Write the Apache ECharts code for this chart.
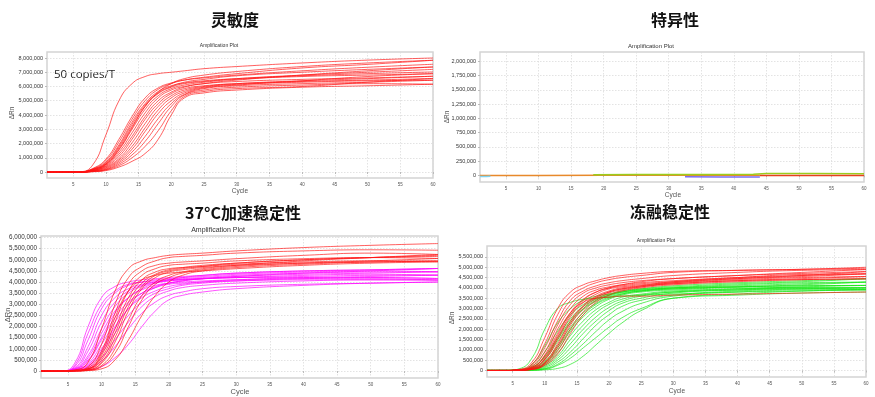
<!DOCTYPE html>
<html>
<head>
<meta charset="utf-8">
<script src="https://cdn.jsdelivr.net/npm/echarts@6/dist/echarts.min.js"></script>
<style>
  html, body { margin: 0; padding: 0; background: #fff; }
  #chart { width: 875px; height: 397px; }
</style>
</head>
<body>
<div id="chart"></div>
<script>
  const CYCLES = [1, 4, 6, 8, 10, 12, 14, 16, 18, 20, 22, 25, 30, 40, 50, 60];
  const CYCLE_TICKS = [5, 10, 15, 20, 25, 30, 35, 40, 45, 50, 55, 60];

  // 灵敏度
  const sensTicks = [0, 1, 2, 3, 4, 5, 6, 7, 8];
  const sensCurves = [
    [0, 0, 0.02, 0.5, 2.6, 5.0, 6.2, 6.7, 6.9, 7.0, 7.1, 7.25, 7.4, 7.65, 7.85, 8.0],
    [0, 0, 0.01, 0.25, 0.9, 2.3, 3.9, 5.2, 5.9, 6.25, 6.45, 6.6, 6.8, 7.1, 7.35, 7.56],
    [0, 0, 0.01, 0.22, 0.8, 2.1, 3.7, 5.0, 5.8, 6.2, 6.45, 6.65, 6.9, 7.3, 7.55, 7.84],
    [0, 0, 0.01, 0.2, 0.7, 1.9, 3.5, 4.8, 5.65, 6.05, 6.25, 6.4, 6.55, 6.75, 6.9, 7.02],
    [0, 0, 0.01, 0.18, 0.6, 1.7, 3.2, 4.6, 5.5, 5.95, 6.2, 6.35, 6.55, 6.8, 7.0, 7.2],
    [0, 0, 0.01, 0.15, 0.55, 1.55, 3.0, 4.4, 5.35, 5.85, 6.1, 6.3, 6.5, 6.7, 6.8, 6.9],
    [0, 0, 0.01, 0.12, 0.5, 1.4, 2.75, 4.15, 5.2, 5.75, 6.0, 6.2, 6.35, 6.5, 6.6, 6.72],
    [0, 0, 0, 0.1, 0.45, 1.25, 2.5, 3.9, 5.0, 5.6, 5.95, 6.2, 6.45, 6.8, 7.1, 7.37],
    [0, 0, 0, 0.1, 0.4, 1.1, 2.3, 3.7, 4.8, 5.5, 5.85, 6.05, 6.2, 6.35, 6.45, 6.56],
    [0, 0, 0, 0.08, 0.35, 0.95, 2.05, 3.4, 4.6, 5.35, 5.75, 6.0, 6.2, 6.4, 6.55, 6.72],
    [0, 0, 0, 0.07, 0.3, 0.85, 1.8, 3.1, 4.35, 5.2, 5.65, 5.95, 6.15, 6.3, 6.4, 6.44],
    [0, 0, 0, 0.06, 0.25, 0.75, 1.6, 2.85, 4.1, 5.0, 5.55, 5.9, 6.1, 6.4, 6.7, 6.9],
    [0, 0, 0, 0.05, 0.2, 0.65, 1.4, 2.5, 3.75, 4.8, 5.45, 5.85, 6.05, 6.2, 6.3, 6.44],
    [0, 0, 0, 0.04, 0.17, 0.55, 1.2, 2.15, 3.4, 4.6, 5.4, 5.75, 5.95, 6.1, 6.2, 6.16],
    [0, 0, 0, 0.03, 0.14, 0.45, 1.0, 1.8, 2.9, 4.3, 5.3, 5.65, 5.85, 6.0, 6.3, 6.56],
    [0, 0, 0, 0.02, 0.1, 0.35, 0.75, 1.3, 2.3, 4.0, 5.2, 5.55, 5.75, 5.95, 6.05, 6.16],
    [0, 0, 0.01, 0.15, 0.55, 1.6, 3.1, 4.6, 5.6, 6.2, 6.55, 6.8, 7.05, 7.4, 7.65, 7.84],
    [0, 0, 0.01, 0.18, 0.65, 1.8, 3.35, 4.7, 5.55, 6.0, 6.3, 6.5, 6.75, 7.0, 7.2, 7.37]
  ];

  // 特异性 (flat traces only)
  const specTicks = [0, 0.25, 0.5, 0.75, 1.0, 1.25, 1.5, 1.75, 2.0];
  const specCyanX = [1, 2, 2.6];
  const specCyanY = [-0.02, -0.02, -0.015];
  const specOrangeX = [1, 10, 20, 30, 44];
  const specOrangeY = [0, 0, 0.002, 0.002, 0.004];
  const specGreenX = [18.4, 25, 35, 43, 45, 52, 60];
  const specGreenY = [0.01, 0.015, 0.015, 0.02, 0.035, 0.035, 0.03];
  const specPurpleX = [32.5, 38, 44];
  const specPurpleY = [-0.025, -0.03, -0.03];
  const specRedX = [44, 50, 60];
  const specRedY = [0.0, 0.0, 0.0];

  // 37°C加速稳定性
  const heatTicks = [0, 0.5, 1, 1.5, 2, 2.5, 3, 3.5, 4, 4.5, 5, 5.5, 6];
  const heatRed = [
    [0, 0, 0.05, 0.4, 1.9, 3.6, 4.6, 4.95, 5.1, 5.2, 5.25, 5.3, 5.4, 5.55, 5.65, 5.73],
    [0, 0, 0.03, 0.2, 1.2, 3.0, 4.2, 4.7, 4.95, 5.1, 5.15, 5.2, 5.3, 5.4, 5.45, 5.43],
    [0, 0, 0.02, 0.15, 0.9, 2.6, 3.9, 4.5, 4.75, 4.85, 4.9, 4.95, 5.05, 5.2, 5.3, 5.24],
    [0, 0, 0.02, 0.1, 0.7, 2.2, 3.6, 4.3, 4.6, 4.75, 4.8, 4.85, 4.95, 5.05, 5.1, 5.06],
    [0, 0, 0.02, 0.1, 0.6, 1.9, 3.3, 4.1, 4.45, 4.6, 4.65, 4.7, 4.8, 4.9, 4.95, 4.94],
    [0, 0, 0.01, 0.08, 0.5, 1.7, 3.1, 3.95, 4.35, 4.55, 4.65, 4.75, 4.85, 5.0, 5.1, 5.15],
    [0, 0, 0.01, 0.06, 0.4, 1.5, 2.9, 3.8, 4.3, 4.5, 4.6, 4.7, 4.85, 5.0, 5.1, 5.2],
    [0, 0, 0.01, 0.05, 0.35, 1.3, 2.7, 3.7, 4.2, 4.45, 4.55, 4.65, 4.75, 4.85, 4.9, 4.94],
    [0, 0, 0.01, 0.04, 0.25, 1.0, 2.3, 3.4, 4.0, 4.3, 4.45, 4.6, 4.75, 4.95, 5.1, 5.24],
    [0, 0, 0, 0.03, 0.2, 0.8, 2.0, 3.2, 3.9, 4.2, 4.4, 4.55, 4.7, 4.85, 4.95, 5.06],
    [0, 0, 0, 0.02, 0.1, 0.5, 1.4, 2.5, 3.4, 4.0, 4.3, 4.5, 4.65, 4.8, 4.9, 4.94],
    [0, 0, 0.01, 0.1, 0.8, 2.4, 3.6, 4.1, 4.3, 4.4, 4.45, 4.5, 4.6, 4.75, 4.85, 4.9]
  ];
  const heatMagenta = [
    [0, 0, 0.35, 2.0, 3.3, 3.8, 4.0, 4.1, 4.15, 4.2, 4.25, 4.3, 4.4, 4.5, 4.55, 4.61],
    [0, 0, 0.25, 1.7, 3.0, 3.6, 3.9, 4.0, 4.05, 4.1, 4.12, 4.15, 4.2, 4.25, 4.3, 4.31],
    [0, 0, 0.2, 1.4, 2.8, 3.5, 3.85, 4.0, 4.1, 4.15, 4.2, 4.25, 4.35, 4.45, 4.5, 4.46],
    [0, 0, 0.15, 1.1, 2.5, 3.3, 3.7, 3.9, 4.0, 4.05, 4.1, 4.15, 4.2, 4.3, 4.35, 4.31],
    [0, 0, 0.12, 0.9, 2.2, 3.1, 3.6, 3.85, 4.0, 4.1, 4.15, 4.2, 4.3, 4.4, 4.45, 4.46],
    [0, 0, 0.1, 0.7, 1.9, 2.9, 3.5, 3.8, 3.95, 4.05, 4.1, 4.15, 4.2, 4.2, 4.2, 4.16],
    [0, 0, 0.08, 0.6, 1.7, 2.7, 3.3, 3.65, 3.85, 3.95, 4.0, 4.05, 4.1, 4.15, 4.15, 4.09],
    [0, 0, 0.06, 0.45, 1.4, 2.4, 3.1, 3.5, 3.75, 3.9, 3.95, 4.0, 4.05, 4.1, 4.1, 4.09],
    [0, 0, 0.05, 0.35, 1.2, 2.2, 3.0, 3.5, 3.8, 3.95, 4.05, 4.15, 4.25, 4.4, 4.5, 4.61],
    [0, 0, 0.04, 0.3, 1.0, 2.0, 2.8, 3.3, 3.6, 3.8, 3.9, 4.0, 4.1, 4.2, 4.25, 4.31],
    [0, 0, 0.03, 0.2, 0.8, 1.7, 2.5, 3.1, 3.5, 3.7, 3.85, 3.95, 4.05, 4.15, 4.2, 4.16],
    [0, 0, 0.02, 0.15, 0.6, 1.4, 2.2, 2.9, 3.35, 3.6, 3.75, 3.85, 3.95, 4.05, 4.1, 4.09],
    [0, 0, 0.02, 0.1, 0.45, 1.1, 1.9, 2.6, 3.1, 3.4, 3.55, 3.7, 3.8, 3.9, 3.95, 4.0],
    [0, 0, 0.01, 0.05, 0.2, 0.6, 1.2, 2.0, 2.7, 3.2, 3.4, 3.55, 3.7, 3.85, 3.95, 4.0],
    [0, 0, 0.08, 0.5, 1.5, 2.6, 3.3, 3.7, 3.95, 4.1, 4.2, 4.3, 4.4, 4.5, 4.55, 4.61],
    [0, 0, 0.04, 0.25, 0.9, 1.9, 2.8, 3.4, 3.75, 3.95, 4.05, 4.15, 4.25, 4.35, 4.4, 4.46]
  ];

  // 冻融稳定性
  const thawTicks = [0, 0.5, 1, 1.5, 2, 2.5, 3, 3.5, 4, 4.5, 5, 5.5];
  const thawRed = [
    [0, 0, 0.05, 0.4, 1.6, 3.0, 3.8, 4.15, 4.35, 4.5, 4.6, 4.7, 4.8, 4.85, 4.9, 5.0],
    [0, 0, 0.04, 0.3, 1.3, 2.7, 3.6, 4.0, 4.25, 4.4, 4.5, 4.6, 4.75, 4.85, 4.9, 4.95],
    [0, 0, 0.03, 0.25, 1.1, 2.4, 3.4, 3.85, 4.1, 4.25, 4.35, 4.45, 4.6, 4.75, 4.85, 4.89],
    [0, 0, 0.03, 0.2, 0.9, 2.2, 3.2, 3.75, 4.0, 4.15, 4.25, 4.35, 4.45, 4.6, 4.7, 4.79],
    [0, 0, 0.02, 0.15, 0.75, 2.0, 3.0, 3.6, 3.9, 4.05, 4.15, 4.25, 4.35, 4.5, 4.6, 4.68],
    [0, 0, 0.02, 0.12, 0.6, 1.7, 2.8, 3.45, 3.8, 4.0, 4.1, 4.2, 4.3, 4.45, 4.55, 4.68],
    [0, 0, 0.02, 0.1, 0.5, 1.5, 2.6, 3.3, 3.7, 3.95, 4.05, 4.15, 4.25, 4.4, 4.5, 4.55],
    [0, 0, 0.01, 0.08, 0.4, 1.3, 2.4, 3.15, 3.6, 3.85, 4.0, 4.1, 4.2, 4.35, 4.45, 4.55],
    [0, 0, 0.01, 0.06, 0.35, 1.1, 2.2, 3.0, 3.5, 3.8, 3.95, 4.05, 4.2, 4.35, 4.4, 4.44],
    [0, 0, 0.01, 0.05, 0.3, 0.95, 2.0, 2.85, 3.4, 3.75, 3.9, 4.05, 4.25, 4.45, 4.6, 4.79],
    [0, 0, 0.01, 0.05, 0.25, 0.8, 1.8, 2.7, 3.3, 3.65, 3.85, 4.0, 4.15, 4.3, 4.4, 4.44],
    [0, 0, 0.02, 0.15, 0.7, 1.8, 2.8, 3.3, 3.5, 3.55, 3.6, 3.6, 3.65, 3.7, 3.75, 3.8],
    [0, 0, 0.02, 0.1, 0.55, 1.6, 2.7, 3.4, 3.8, 4.0, 4.15, 4.3, 4.45, 4.6, 4.75, 4.89],
    [0, 0, 0.01, 0.07, 0.35, 1.2, 2.3, 3.1, 3.55, 3.8, 3.95, 4.1, 4.3, 4.5, 4.65, 4.68]
  ];
  const thawGreen = [
    [0, 0, 0.08, 0.6, 2.0, 3.0, 3.3, 3.45, 3.5, 3.55, 3.6, 3.65, 3.7, 3.8, 3.85, 3.91],
    [0, 0, 0.04, 0.3, 1.2, 2.3, 3.0, 3.4, 3.6, 3.7, 3.8, 3.9, 4.0, 4.1, 4.2, 4.28],
    [0, 0, 0.03, 0.2, 0.9, 1.9, 2.7, 3.2, 3.5, 3.7, 3.85, 3.95, 4.05, 4.2, 4.3, 4.44],
    [0, 0, 0.03, 0.15, 0.7, 1.6, 2.5, 3.1, 3.45, 3.65, 3.8, 3.9, 4.0, 4.05, 4.1, 4.12],
    [0, 0, 0.02, 0.12, 0.55, 1.4, 2.3, 2.95, 3.35, 3.6, 3.75, 3.85, 3.95, 4.05, 4.1, 4.12],
    [0, 0, 0.02, 0.1, 0.45, 1.2, 2.1, 2.8, 3.25, 3.55, 3.7, 3.85, 3.95, 4.05, 4.15, 4.28],
    [0, 0, 0.02, 0.08, 0.35, 1.0, 1.9, 2.6, 3.1, 3.45, 3.65, 3.8, 3.9, 4.0, 4.0, 4.0],
    [0, 0, 0.01, 0.06, 0.3, 0.85, 1.7, 2.4, 2.95, 3.3, 3.55, 3.7, 3.85, 3.95, 4.0, 4.0],
    [0, 0, 0.01, 0.05, 0.25, 0.7, 1.5, 2.2, 2.8, 3.2, 3.45, 3.65, 3.8, 3.9, 3.95, 3.91],
    [0, 0, 0.01, 0.05, 0.2, 0.6, 1.3, 2.0, 2.6, 3.05, 3.35, 3.6, 3.8, 3.95, 4.05, 4.12],
    [0, 0, 0.01, 0.04, 0.15, 0.5, 1.1, 1.8, 2.4, 2.9, 3.25, 3.5, 3.75, 3.9, 4.0, 4.0],
    [0, 0, 0.01, 0.03, 0.1, 0.4, 0.9, 1.55, 2.2, 2.7, 3.1, 3.4, 3.65, 3.85, 3.95, 4.0],
    [0, 0, 0, 0.02, 0.08, 0.3, 0.75, 1.3, 1.9, 2.45, 2.85, 3.25, 3.6, 3.8, 3.9, 3.91],
    [0, 0, 0, 0.02, 0.06, 0.25, 0.6, 1.1, 1.6, 2.1, 2.55, 3.0, 3.5, 3.65, 3.75, 3.8],
    [0, 0, 0, 0, 0.03, 0.1, 0.3, 0.7, 1.25, 1.8, 2.3, 2.9, 3.5, 3.7, 3.85, 3.91],
    [0, 0, 0.02, 0.15, 0.65, 1.5, 2.4, 3.0, 3.4, 3.65, 3.8, 3.95, 4.1, 4.25, 4.35, 4.44],
    [0, 0, 0.01, 0.07, 0.4, 1.1, 2.0, 2.7, 3.2, 3.5, 3.7, 3.85, 4.0, 4.15, 4.25, 4.28]
  ];

  const chart = echarts.init(document.getElementById('chart'));

  const fmt = v => Math.round(v * 1e6).toLocaleString('en-US');
  const tickFont = 'Liberation Sans';

  // plot boxes
  const grids = [
    { left: 47, top: 52, width: 386, height: 126 },
    { left: 480, top: 52, width: 384, height: 130 },
    { left: 41, top: 236, width: 397, height: 142 },
    { left: 487, top: 246, width: 379, height: 131 }
  ].map(g => Object.assign(g, { show: true, borderColor: '#d4d4d4', borderWidth: 1.5, backgroundColor: '#fff' }));

  const yRange = [[-0.42, 8.42], [-0.116, 2.165], [-0.313, 6.07], [-0.317, 6.03]];
  const yTicks = [sensTicks, specTicks, heatTicks, thawTicks];
  const labelSize = [5.5, 5.5, 6.3, 5.5];

  const xAxis = grids.map((g, i) => ({
    type: 'value', gridIndex: i, min: 1, max: 60,
    axisLine: { show: false },
    axisTick: { show: true, length: 2, lineStyle: { color: '#bbb' }, customValues: CYCLE_TICKS },
    axisLabel: { customValues: CYCLE_TICKS, fontSize: 4.5, color: '#555', fontFamily: tickFont, margin: 4 },
    splitLine: { show: true, lineStyle: { type: [1.5, 1.5], color: '#dcdcdc', width: 0.8 } }
  }));

  const yAxis = grids.map((g, i) => ({
    type: 'value', gridIndex: i, min: yRange[i][0], max: yRange[i][1],
    axisLine: { show: false },
    axisTick: { show: true, length: 2, lineStyle: { color: '#bbb' }, customValues: yTicks[i] },
    axisLabel: { customValues: yTicks[i], formatter: fmt, fontSize: labelSize[i], color: '#333', fontFamily: tickFont, margin: 4 },
    splitLine: { show: true, lineStyle: { type: [1.5, 1.5], color: '#dcdcdc', width: 0.8 } }
  }));

  function curveSeries(curves, color, gi) {
    return curves.map(vals => ({
      type: 'line', xAxisIndex: gi, yAxisIndex: gi,
      data: CYCLES.map((c, k) => [c, vals[k]]),
      smooth: 0.5, showSymbol: false, silent: true,
      lineStyle: { color: color, width: 0.8 }
    }));
  }
  function traceSeries(xs, ys, color, width) {
    return {
      type: 'line', xAxisIndex: 1, yAxisIndex: 1,
      data: xs.map((c, k) => [c, ys[k]]),
      showSymbol: false, silent: true, lineStyle: { color: color, width: width }
    };
  }

  const series = [].concat(
    curveSeries(sensCurves, 'rgba(255,20,20,0.85)', 0),
    [
      traceSeries(specOrangeX, specOrangeY, '#e8892b', 1.5),
      traceSeries(specCyanX, specCyanY, '#7fd3f0', 1.5),
      traceSeries(specGreenX, specGreenY, '#9acd1e', 1.5),
      traceSeries(specPurpleX, specPurpleY, '#7b6cf0', 1.5),
      traceSeries(specRedX, specRedY, '#e8401e', 1.5)
    ],
    curveSeries(heatMagenta, 'rgba(255,0,255,0.85)', 2),
    curveSeries(heatRed, 'rgba(255,20,20,0.85)', 2),
    curveSeries(thawGreen, 'rgba(20,230,20,0.85)', 3),
    curveSeries(thawRed, 'rgba(255,20,20,0.85)', 3)
  );

  function txt(x, y, text, size, opts) {
    return {
      type: 'text', x: x, y: y, silent: true,
      style: Object.assign({
        text: text, fontSize: size, fill: '#333', align: 'center', verticalAlign: 'middle',
        fontFamily: tickFont
      }, opts || {})
    };
  }
  const cjk = { fontFamily: 'Noto Sans CJK SC', fill: '#111', fontWeight: 'bold' };

  const graphic = [
    txt(235, 20, '灵敏度', 16, cjk),
    txt(675, 20, '特异性', 16, cjk),
    txt(243, 213, '37°C加速稳定性', 16, cjk),
    txt(670, 212, '冻融稳定性', 16, cjk),
    txt(219, 46, 'Amplification Plot', 5, {}),
    txt(651, 46, 'Amplification Plot', 6, {}),
    txt(218, 230, 'Amplification Plot', 7, {}),
    txt(656, 241, 'Amplification Plot', 5, {}),
    txt(240, 191, 'Cycle', 6.5, { fill: '#555' }),
    txt(673, 195, 'Cycle', 6.5, { fill: '#555' }),
    txt(240, 392, 'Cycle', 7.5, { fill: '#555' }),
    txt(677, 391, 'Cycle', 6.5, { fill: '#555' }),
    txt(84.5, 75, '50 copies/T', 11.5, { fill: '#222', fontFamily: 'Open Sans' }),
    Object.assign(txt(12, 113, 'ΔRn', 6.5, { fill: '#555' }), { rotation: Math.PI / 2 }),
    Object.assign(txt(447, 117, 'ΔRn', 6.5, { fill: '#555' }), { rotation: Math.PI / 2 }),
    Object.assign(txt(8, 315, 'ΔRn', 7.5, { fill: '#555' }), { rotation: Math.PI / 2 }),
    Object.assign(txt(452, 318, 'ΔRn', 6.5, { fill: '#555' }), { rotation: Math.PI / 2 })
  ];

  chart.setOption({
    animation: false,
    backgroundColor: '#fff',
    grid: grids,
    xAxis: xAxis,
    yAxis: yAxis,
    series: series,
    graphic: graphic
  });
</script>
</body>
</html>
